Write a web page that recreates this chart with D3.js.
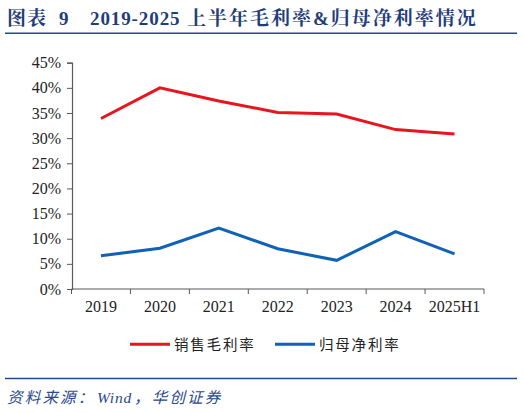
<!DOCTYPE html>
<html><head><meta charset="utf-8">
<script src="https://cdn.jsdelivr.net/npm/d3@7"></script>
<style>html,body{margin:0;padding:0;background:#fff;}svg{display:block;}</style>
</head><body>
<svg id="c" width="524" height="413"></svg>
<script>
const categories = ["2019","2020","2021","2022","2023","2024","2025H1"];
const grossMargin = [33.9, 40.0, 37.4, 35.1, 34.8, 31.7, 30.8];
const netMargin = [6.6, 8.1, 12.1, 8.0, 5.7, 11.4, 7.0];
const yTicks = [0,5,10,15,20,25,30,35,40,45];
const seriesNames = ["销售毛利率","归母净利率"];
const seriesColors = ["#E8141E","#0F62B5"];
const titleParts = ["图表","9","2019-2025","上半年毛利率&归母净利率情况"];
const sourceParts = ["资料来源：","Wind","，华创证券"];

const svg = d3.select("#c");
const x = d3.scaleBand().domain(categories).range([71.5, 484]);
const y = d3.scaleLinear().domain([0,45]).range([289, 62.7]);

// title
const tt = svg.append("text").attr("y",24.5)
  .attr("font-family","'Liberation Serif','Noto Serif CJK SC','Noto Sans CJK SC',serif")
  .attr("font-weight","bold").attr("font-size",19).attr("fill","#1F3D7A");
const titleX = [7, 59, 90, 187];
const titleLS = [1, 0, 0.9, 2.0];
titleParts.forEach((p,i)=>{
  tt.append("tspan").attr("x",titleX[i]).attr("letter-spacing",titleLS[i]).text(p);
});
svg.append("line").attr("x1",5).attr("x2",517).attr("y1",33.3).attr("y2",33.3)
  .attr("stroke","#1F4A8C").attr("stroke-width",1.6);

// axes
const gy = svg.append("g").attr("transform","translate(72,0)")
  .call(d3.axisLeft(y).tickValues(yTicks).tickFormat(d=>d+"%").tickSize(5).tickPadding(6));
const gx = svg.append("g").attr("transform","translate(0,289)")
  .call(d3.axisBottom(x).tickSize(0).tickPadding(12));
const bounds = categories.map(c=>x(c)).concat([x.range()[1]]);
gx.selectAll(".bt").data(bounds).enter().append("line")
  .attr("x1",d=>d).attr("x2",d=>d).attr("y1",0).attr("y2",5).attr("stroke","#595959");
[gy,gx].forEach(g=>{
  g.selectAll("path").attr("stroke","#595959").attr("stroke-width",1.2);
  g.selectAll(".tick line").attr("stroke","#595959");
  g.selectAll("text").attr("font-family","'Liberation Serif',serif").attr("font-size",16).attr("fill","#222");
});
gx.select("path.domain").attr("d","M71.5,0H484");

// lines
const line = d3.line().x((d,i)=>x(categories[i])+x.bandwidth()/2).y(d=>y(d));
[grossMargin, netMargin].forEach((s,i)=>{
  svg.append("path").datum(s).attr("d",line).attr("fill","none")
    .attr("stroke",seriesColors[i]).attr("stroke-width",3).attr("stroke-linejoin","miter");
});

// legend
const legX = [130, 275];
seriesNames.forEach((n,i)=>{
  svg.append("line").attr("x1",legX[i]).attr("x2",legX[i]+40).attr("y1",344.3).attr("y2",344.3)
    .attr("stroke",seriesColors[i]).attr("stroke-width",3);
  svg.append("text").attr("x",legX[i]+44).attr("y",349.5)
    .attr("font-family","'Noto Sans CJK SC',sans-serif").attr("font-size",14.5)
    .attr("letter-spacing",1.8).attr("fill","#222").text(n);
});

// footer
svg.append("line").attr("x1",5).attr("x2",517).attr("y1",378.5).attr("y2",378.5)
  .attr("stroke","#1F4A8C").attr("stroke-width",1.6);
const st = svg.append("text").attr("y",403)
  .attr("font-family","'Liberation Serif','Noto Sans CJK SC',serif").attr("font-style","italic")
  .attr("font-size",15.5).attr("fill","#2A4A8C");
const srcX = [7, 97, 134];
const srcLS = [2.2, 0.8, 2.2];
sourceParts.forEach((p,i)=>{
  st.append("tspan").attr("x",srcX[i]).attr("letter-spacing",srcLS[i]).text(p);
});
</script>
</body></html>
